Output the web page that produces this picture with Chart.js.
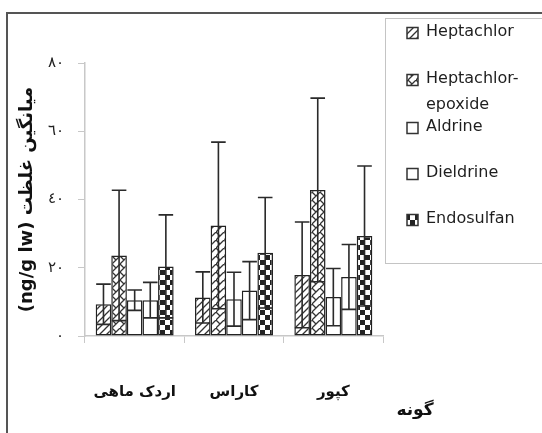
<!DOCTYPE html>
<html>
<head>
<meta charset="utf-8">
<script src="https://cdn.jsdelivr.net/npm/chart.js@4.4.0/dist/chart.umd.min.js"></script>
<style>
  html, body { margin: 0; padding: 0; background: #fff; }
  #wrap { position: relative; width: 542px; height: 433px; overflow: hidden; }
  #frame { position: absolute; left: 6px; top: 12px; width: 600px; height: 500px;
           border-left: 2px solid #555; border-top: 2px solid #555; }
  #chart { position: absolute; left: 0; top: 0; }
</style>
</head>
<body>
<div id="wrap">
  <div id="frame"></div>
  <canvas id="chart" width="542" height="433"></canvas>
</div>
<script>
// species on the x axis
const species = ["اردک ماهی", "کاراس", "کپور"];
const compounds = ["Heptachlor", "Heptachlor-epoxide", "Aldrine", "Dieldrine", "Endosulfan"];

// mean concentration and standard deviation per species (ng/g lw)
const heptachlor = [9.3, 11.3, 17.9];
const heptachlorSd = [5.9, 7.5, 15.5];
const heptachlorEpoxide = [23.6, 32.4, 42.8];
const heptachlorEpoxideSd = [19.1, 24.4, 26.9];
const aldrine = [10.5, 10.8, 11.4];
const aldrineSd = [3.0, 7.9, 8.4];
const dieldrine = [10.5, 13.3, 17.3];
const dieldrineSd = [5.2, 8.5, 9.5];
const endosulfan = [20.4, 24.4, 29.3];
const endosulfanSd = [15.1, 16.2, 20.5];

const yTickValues = [0, 20, 40, 60, 80];
const yTickLabels = ["٠", "٢٠", "٤٠", "٦٠", "٨٠"];

const yTitle = "(ng/g lw) میانگین غلظت";
const xTitle = "گونه";

// hatch fills, built on small tiles
function makePattern(size, paint) {
  const c = document.createElement("canvas");
  c.width = size; c.height = size;
  const g = c.getContext("2d");
  g.fillStyle = "#fff";
  g.fillRect(0, 0, size, size);
  g.strokeStyle = "#333";
  g.fillStyle = "#222";
  g.lineWidth = 1.3;
  paint(g, size);
  return c;
}

const tiles = [
  makePattern(7, (g, s) => {           // wide upward diagonal
    g.beginPath();
    g.moveTo(-1, s + 1); g.lineTo(s + 1, -1);
    g.moveTo(-1, 1); g.lineTo(1, -1);
    g.moveTo(s - 1, s + 1); g.lineTo(s + 1, s - 1);
    g.stroke();
  }),
  makePattern(8, (g, s) => {           // zig zag
    g.beginPath();
    g.moveTo(-1, s + 1); g.lineTo(s + 1, -1);
    g.moveTo(0, 0); g.lineTo(s / 2, s / 2);
    g.stroke();
  }),
  makePattern(4, () => {}),            // plain white
  makePattern(4, () => {}),
  makePattern(10, (g, s) => {          // large checker
    g.fillRect(0, 0, s / 2, s / 2);
    g.fillRect(s / 2, s / 2, s / 2, s / 2);
  })
];

const ctx = document.getElementById("chart").getContext("2d");
const fills = tiles.map(t => ctx.createPattern(t, "repeat"));

const means = [heptachlor, heptachlorEpoxide, aldrine, dieldrine, endosulfan];
const sds = [heptachlorSd, heptachlorEpoxideSd, aldrineSd, dieldrineSd, endosulfanSd];

const datasets = compounds.map((name, i) => ({
  label: name,
  data: means[i],
  errors: sds[i],
  backgroundColor: fills[i],
  borderColor: "#222",
  borderWidth: 1.5,
  borderSkipped: false,
  categoryPercentage: 0.785,
  barPercentage: 1.0
}));

// +/- sd whiskers on every bar
const errorBars = {
  id: "errorBars",
  afterDatasetsDraw(chart) {
    const c = chart.ctx;
    const y = chart.scales.y;
    c.save();
    c.strokeStyle = "#2a2a2a";
    c.lineWidth = 1.6;
    chart.data.datasets.forEach((ds, i) => {
      chart.getDatasetMeta(i).data.forEach((bar, j) => {
        const v = ds.data[j], e = ds.errors[j];
        const top = y.getPixelForValue(v + e);
        const bot = y.getPixelForValue(v - e);
        const half = bar.width / 2 - 0.5;
        c.beginPath();
        c.moveTo(bar.x, top); c.lineTo(bar.x, bot);
        c.moveTo(bar.x - half, top); c.lineTo(bar.x + half, top);
        c.moveTo(bar.x - half, bot); c.lineTo(bar.x + half, bot);
        c.stroke();
      });
    });
    c.restore();
  }
};

// boxed legend on the right and the species caption
const sideLegend = {
  id: "sideLegend",
  afterDraw(chart) {
    const c = chart.ctx;
    c.save();
    c.strokeStyle = "#c4c4c4";
    c.lineWidth = 1;
    c.strokeRect(385.5, 18.5, 200, 245);

    const rows = [33, 80, 128, 174, 220];
    c.font = "16px 'DejaVu Sans'";
    c.textBaseline = "middle";
    c.textAlign = "left";
    chart.data.datasets.forEach((ds, i) => {
      const cy = rows[i];
      c.fillStyle = ds.backgroundColor;
      c.fillRect(407, cy - 5.5, 11, 11);
      c.strokeStyle = "#333";
      c.lineWidth = 1.5;
      c.strokeRect(407, cy - 5.5, 11, 11);
      c.fillStyle = "#1e1e1e";
      const parts = ds.label.includes("-") ? [ds.label.split("-")[0] + "-", ds.label.split("-")[1]] : [ds.label];
      parts.forEach((p, k) => c.fillText(p, 426, cy - 1 + k * 26));
    });

    c.font = "bold 17px 'DejaVu Sans'";
    c.textAlign = "center";
    c.fillStyle = "#111";
    c.fillText(xTitle, 415, 411);
    c.restore();
  }
};

new Chart(ctx, {
  type: "bar",
  data: { labels: species, datasets: datasets },
  options: {
    responsive: false,
    animation: false,
    devicePixelRatio: 1,
    layout: { padding: { left: 0, top: 63, right: 159, bottom: 0 } },
    plugins: { legend: { display: false }, tooltip: { enabled: false } },
    scales: {
      x: {
        grid: { drawOnChartArea: false, drawTicks: true, tickLength: 7, color: "#c8c8c8", offset: true },
        border: { color: "#c8c8c8", width: 1.5 },
        ticks: { padding: 40, color: "#111", font: { family: "DejaVu Sans", size: 15, weight: "bold" } },
        afterFit(scale) { scale.height = 97; }
      },
      y: {
        min: 0,
        max: 80,
        afterBuildTicks(scale) { scale.ticks = yTickValues.map(v => ({ value: v })); },
        grid: { drawOnChartArea: false, drawTicks: true, tickLength: 7, color: "#c8c8c8" },
        border: { color: "#c8c8c8", width: 1.5 },
        ticks: {
          padding: 14,
          color: "#222",
          font: { family: "DejaVu Sans", size: 15 },
          callback: v => yTickLabels[yTickValues.indexOf(v)]
        },
        title: {
          display: true,
          text: yTitle,
          color: "#111",
          font: { family: "DejaVu Sans", size: 18, weight: "bold" },
          padding: { top: 17, bottom: 0 }
        },
        afterFit(scale) { scale.width = 85; }
      }
    }
  },
  plugins: [errorBars, sideLegend]
});
</script>
</body>
</html>
